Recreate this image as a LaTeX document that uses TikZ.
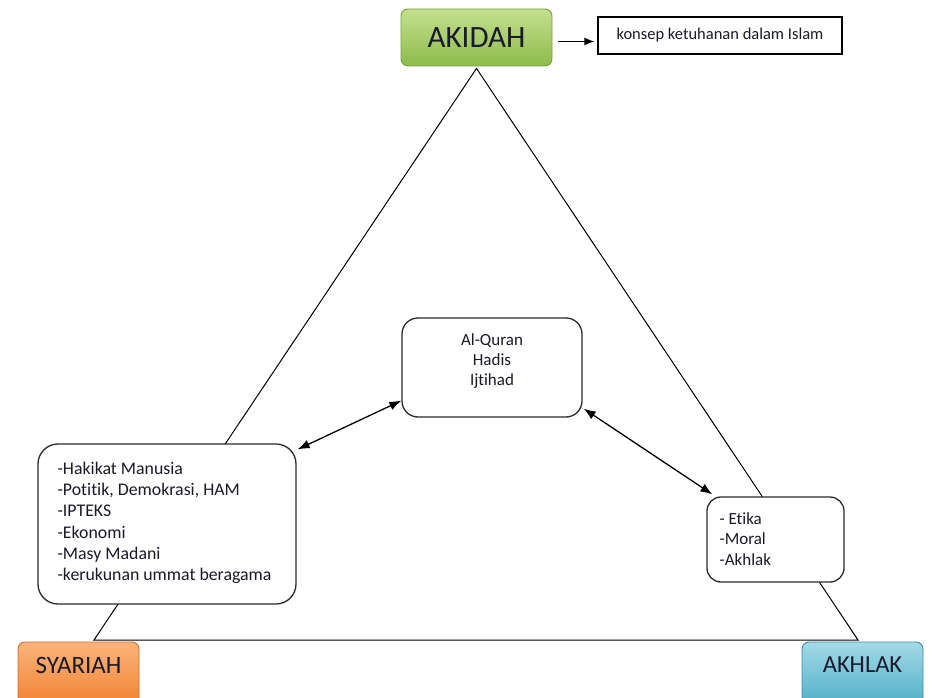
\documentclass[tikz,border=0pt]{standalone}
\usepackage{fontspec}
\setmainfont{Carlito}[Ligatures=NoCommon]
\usetikzlibrary{arrows.meta}
\definecolor{grA}{HTML}{C5E08F}
\definecolor{grB}{HTML}{8DBB4C}
\definecolor{grD}{HTML}{77A23A}
\definecolor{orA}{HTML}{FBB47C}
\definecolor{orB}{HTML}{F0802E}
\definecolor{orD}{HTML}{D66D1E}
\definecolor{blA}{HTML}{A3DAE8}
\definecolor{blB}{HTML}{4BACC6}
\definecolor{blD}{HTML}{3B8EA6}
\definecolor{edge}{HTML}{2B2B2B}
\definecolor{ink}{HTML}{1A1A2A}
\tikzset{
  colbox/.style={rounded corners=7pt, line width=0.9pt},
  wbox/.style={draw=edge, fill=white, rounded corners=16pt, line width=1.3pt},
  txt/.style={inner sep=0pt, text=ink, font=\fontsize{17.8}{21.2}\selectfont, align=left, anchor=north west},
  conn/.style={line width=1pt, draw=black},
  dbl/.style={line width=1.3pt, {Latex[length=12pt,width=9pt]}-{Latex[length=12pt,width=9pt]}},
}
\begin{document}
\begin{tikzpicture}[x=1pt,y=-1pt]
\path[use as bounding box, fill=white] (0,0) rectangle (932,698);

% top box
\node[colbox, draw=grD, top color=grA, bottom color=grB, minimum width=151pt, minimum height=57pt,
      font=\fontsize{31}{31}\selectfont, text=ink] (ak) at (476.5,37.5) {AKIDAH};
\node[draw=black, line width=1.2pt, minimum width=244pt, minimum height=37pt, inner sep=0pt, text=ink,
      font=\fontsize{16.5}{17}\selectfont] (kon) at (720,35.5) {konsep ketuhanan dalam Islam};
\draw[line width=1.3pt, -{Latex[length=10pt,width=8pt]}] ([shift={(6,4)}]ak.east) -- ([shift={(-3,6)}]kon.west);

% triangle
\coordinate (apex) at ([yshift=-2pt]ak.south);
\coordinate (bl) at (94,640);
\coordinate (br) at (858,640);
\draw[conn] (apex) -- (bl) -- (br) -- cycle;

% bottom colored boxes
\node[colbox, draw=orD, top color=orA, bottom color=orB, minimum width=121pt, minimum height=66pt] (sybox) at (78.5,675) {};
\node[font=\fontsize{25}{25}\selectfont, text=ink] (sy) at (78.5,665) {SYARIAH};
\node[colbox, draw=blD, top color=blA, bottom color=blB, minimum width=121pt, minimum height=66pt] (abox) at (862.5,675) {};
\node[font=\fontsize{24.5}{25}\selectfont, text=ink] (akh) at (862.5,665) {AKHLAK};

% white boxes
\node[wbox, minimum width=180pt, minimum height=99pt] (cen) at (492,367.5) {};
\node[txt, font=\fontsize{17}{20}\selectfont, align=center, anchor=north] (centxt) at ([yshift=-16pt]cen.north) {Al-Quran\\Hadis\\Ijtihad};

\node[wbox, rounded corners=20pt, minimum width=258pt, minimum height=160pt] (lb) at (167,524) {};
\node[txt] (lbtxt) at ([shift={(20,18.5)}]lb.north west) {-Hakikat Manusia\\-Potitik, Demokrasi, HAM\\-IPTEKS\\-Ekonomi\\-Masy Madani\\-kerukunan ummat beragama};

\node[wbox, rounded corners=14pt, minimum width=137pt, minimum height=85pt] (rb) at (775.5,539.5) {};
\node[txt, font=\fontsize{17}{20.5}\selectfont] (rbtxt) at ([shift={(13,16)}]rb.north west) {- Etika\\-Moral\\-Akhlak};

% arrows
\draw[dbl] ([shift={(0,-17)}]cen.south west) -- ([shift={(1,6)}]lb.north east);
\draw[dbl] ([shift={(1,-9)}]cen.south east) -- ([shift={(6,-2)}]rb.north west);
\end{tikzpicture}
\end{document}
